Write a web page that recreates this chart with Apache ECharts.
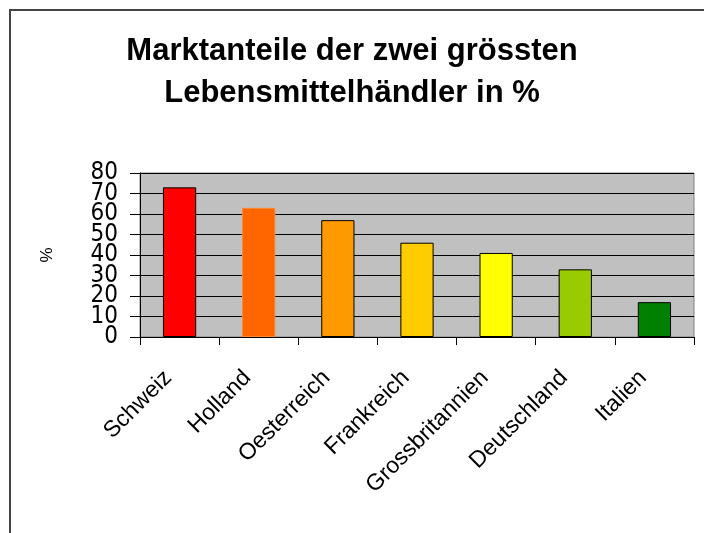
<!DOCTYPE html>
<html>
<head>
<meta charset="utf-8">
<script src="https://cdn.jsdelivr.net/npm/echarts@6/dist/echarts.min.js"></script>
<style>
  html, body { margin: 0; padding: 0; background: #fff; overflow: hidden; }
  #frame { position: absolute; left: 9px; top: 9px; width: 720px; height: 540px; border: 2px solid #444; box-sizing: border-box; }
  #chart { position: absolute; left: 0; top: 0; width: 704px; height: 533px; }
</style>
</head>
<body>
<div id="frame"></div>
<div id="chart"></div>
<script>
// Laender und Marktanteile (%)
var countries = ['Schweiz', 'Holland', 'Oesterreich', 'Frankreich', 'Grossbritannien', 'Deutschland', 'Italien'];
var shares = [73, 63, 57, 46, 41, 33, 17];
var barColors = ['#ff0000', '#ff6600', '#ff9900', '#ffcc00', '#ffff00', '#99cc00', '#008000'];
var barBorders = ['#000', '#ff8833', '#000', '#000', '#000', '#000', '#000'];

var yMin = 0, yMax = 80, yStep = 10;

var labelFont = '"DejaVu Sans Condensed", "Liberation Sans", sans-serif';

var dom = document.getElementById('chart');
var myChart = echarts.init(dom, null, { renderer: 'canvas' });

// the tick labels overlap in the original, so even and odd ones go on two stacked axes
var option = {
  animation: false,
  title: {
    text: 'Marktanteile der zwei grössten\nLebensmittelhändler in %',
    left: 'center',
    top: 25,
    textStyle: {
      fontFamily: 'Liberation Sans',
      fontWeight: 'bold',
      fontSize: 31,
      lineHeight: 42,
      color: '#000'
    }
  },
  grid: {
    left: 140,
    top: 173,
    right: 10,
    bottom: 196,
    show: true,
    backgroundColor: '#c0c0c0',
    borderColor: '#808080',
    borderWidth: 1
  },
  xAxis: {
    type: 'category',
    data: countries,
    axisLine: { lineStyle: { color: '#000', width: 1 } },
    axisTick: { show: true, length: 8, lineStyle: { color: '#000' } },
    axisLabel: {
      interval: 0,
      rotate: 45,
      margin: 26,
      padding: [0, 16, 0, 0],
      fontFamily: 'Liberation Sans',
      fontSize: 23,
      color: '#000'
    }
  },
  yAxis: [
    {
      type: 'value',
      position: 'left',
      min: yMin,
      max: yMax,
      interval: yStep,
      name: '%',
      nameLocation: 'middle',
      nameGap: 84,
      nameRotate: 90,
      nameTextStyle: { fontFamily: 'Liberation Sans', fontSize: 17, color: '#000' },
      axisLine: { show: true, lineStyle: { color: '#000', width: 1 } },
      axisTick: { show: true, length: 10, lineStyle: { color: '#000' } },
      splitLine: { show: true, lineStyle: { color: '#000', width: 1 } },
      axisLabel: {
        margin: 22,
        showMinLabel: true,
        showMaxLabel: true,
        hideOverlap: false,
        fontFamily: labelFont,
        fontSize: 24,
        color: '#000',
        formatter: function (v) { return v % 20 === 0 ? String(v) : ''; }
      }
    },
    {
      type: 'value',
      position: 'left',
      offset: 0,
      min: yMin,
      max: yMax,
      interval: yStep,
      axisLine: { show: false },
      axisTick: { show: false },
      splitLine: { show: false },
      axisLabel: {
        margin: 22,
        showMinLabel: false,
        showMaxLabel: false,
        hideOverlap: false,
        fontFamily: labelFont,
        fontSize: 24,
        color: '#000',
        formatter: function (v) { return v % 20 !== 0 ? String(v) : ''; }
      }
    }
  ],
  series: [
    {
      type: 'bar',
      yAxisIndex: 0,
      barWidth: '42%',
      data: shares.map(function (v, i) {
        return {
          value: v,
          itemStyle: { color: barColors[i], borderColor: barBorders[i], borderWidth: 1 }
        };
      })
    }
  ]
};

myChart.setOption(option);
window.addEventListener('resize', myChart.resize);
</script>
</body>
</html>
